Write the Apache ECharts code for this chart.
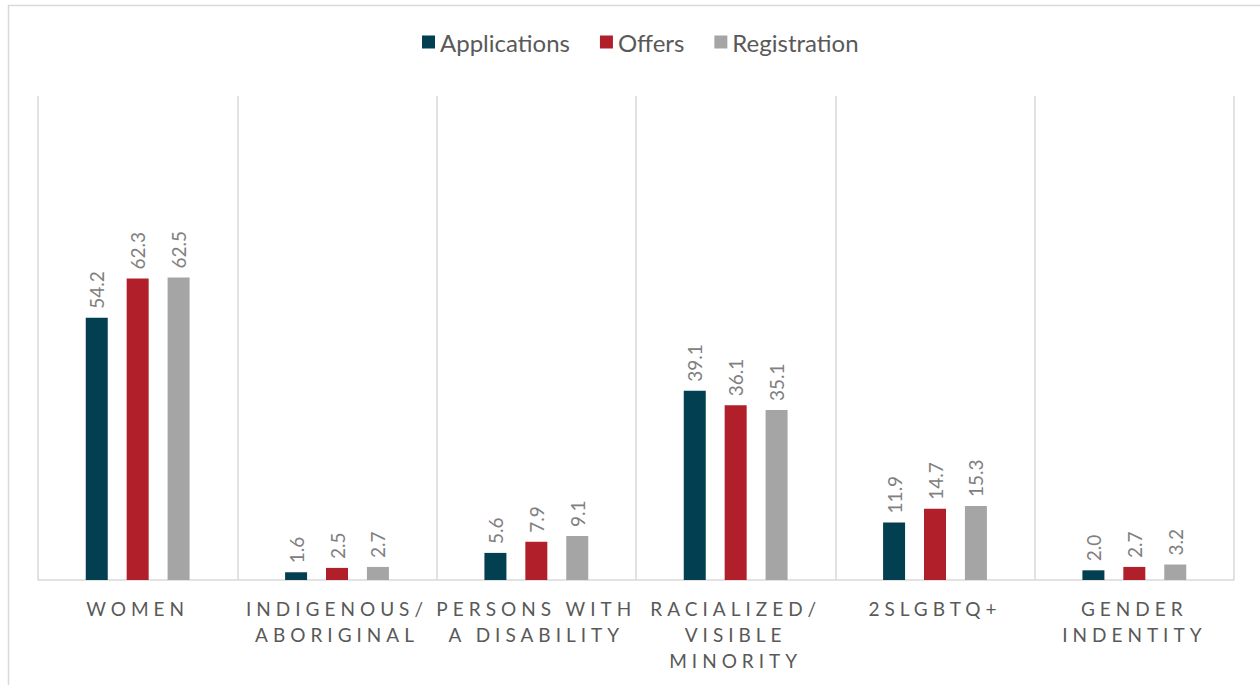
<!DOCTYPE html>
<html>
<head>
<meta charset="utf-8">
<script src="https://cdn.jsdelivr.net/npm/echarts@6/dist/echarts.min.js"></script>
<style>
  html, body { margin: 0; padding: 0; background: #fff; }
  #chart { width: 1260px; height: 685px; }
  #chart text[fill="#595958"] { letter-spacing: 5px; }
</style>
</head>
<body>
<div id="chart"></div>
<script>
const categories = [
  'WOMEN',
  'INDIGENOUS/\nABORIGINAL',
  'PERSONS WITH\nA DISABILITY',
  'RACIALIZED/\nVISIBLE\nMINORITY',
  '2SLGBTQ+',
  'GENDER\nINDENTITY'
];
const seriesNames = ['Applications', 'Offers', 'Registration'];
const applications = [54.2, 1.6, 5.6, 39.1, 11.9, 2.0];
const offers = [62.3, 2.5, 7.9, 36.1, 14.7, 2.7];
const registration = [62.5, 2.7, 9.1, 35.1, 15.3, 3.2];
const colors = ['#023F50', '#B01F2A', '#A5A5A5'];
const values = [applications, offers, registration];

const chart = echarts.init(document.getElementById('chart'), null, { renderer: 'svg' });

const labelStyle = {
  show: true,
  position: 'top',
  rotate: 90,
  align: 'left',
  verticalAlign: 'middle',
  distance: 9,
  color: '#808080',
  fontFamily: 'Lato',
  fontSize: 19,
  formatter: p => p.value.toFixed(1)
};

chart.setOption({
  animation: false,
  backgroundColor: '#fff',
  graphic: [{
    type: 'rect',
    shape: { x: 8.5, y: 5.5, width: 1400, height: 800 },
    style: { fill: 'none', stroke: '#D9D9D9', lineWidth: 1.5 },
    silent: true,
    z: -10
  }],
  legend: {
    top: 25,
    left: 417,
    itemWidth: 13,
    itemHeight: 13,
    itemGap: 30,
    icon: 'rect',
    textStyle: { color: '#595959', fontFamily: 'Lato', fontSize: 24 },
    data: seriesNames
  },
  grid: { left: 38, right: 26, top: 96, bottom: 105, containLabel: false },
  xAxis: {
    type: 'category',
    data: categories,
    boundaryGap: true,
    axisLine: { show: true, lineStyle: { color: '#D9D9D9', width: 1.5 } },
    axisTick: { show: false },
    splitLine: { show: true, lineStyle: { color: '#D9D9D9', width: 1.5 } },
    axisLabel: {
      interval: 0,
      margin: 15,
      color: '#595958',
      fontFamily: 'Lato',
      fontSize: 19,
      lineHeight: 26
    }
  },
  yAxis: {
    type: 'value',
    min: 0,
    max: 100,
    show: false,
    splitLine: { show: false }
  },
  series: seriesNames.map((name, i) => ({
    name,
    type: 'bar',
    data: values[i],
    barWidth: 22,
    barGap: '86%',
    itemStyle: { color: colors[i] },
    label: labelStyle
  }))
});
</script>
</body>
</html>
